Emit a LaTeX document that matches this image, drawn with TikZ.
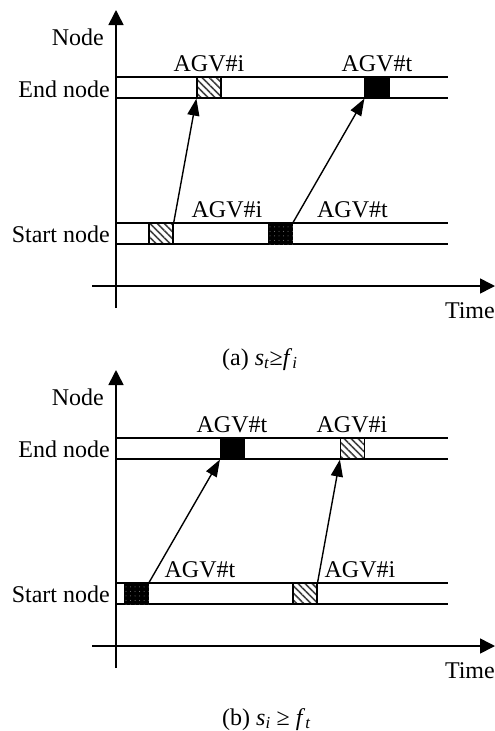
\documentclass[tikz,border=0pt]{standalone}
\usepackage{fontspec}
\setmainfont{Liberation Serif}
\usetikzlibrary{arrows.meta,patterns.meta}

\begin{document}
\begin{tikzpicture}[
  x=1pt, y=-1pt,
  font=\fontsize{24}{28}\selectfont,
  lbl/.style={
    inner sep=0pt,
    anchor=base
  },
  hatchbox/.style={
    draw,
    rectangle,
    line width=1.2pt,
    inner sep=0pt,
    minimum width=24pt,
    minimum height=21pt,
    pattern={Lines[angle=-45,distance=5pt,line width=1.6pt]},
    pattern color=black!75
  },
  dotbox/.style={
    draw,
    rectangle,
    fill=black,
    line width=1.2pt,
    inner sep=0pt,
    minimum width=24pt,
    minimum height=21pt,
    postaction={pattern={Dots[distance=4.5pt,radius=0.5pt]}, pattern color=gray}
  },
  solidbox/.style={
    draw,
    rectangle,
    fill=black,
    line width=1.2pt,
    inner sep=0pt,
    minimum width=24pt,
    minimum height=21pt
  },
  band/.style={line width=1.3pt},
  axis/.style={line width=1.6pt, -{Triangle[length=15pt,width=15pt]}},
  arrow/.style={line width=1.4pt, -{Triangle[length=17pt,width=12pt]}}
]
\useasboundingbox (0,0) rectangle (495,731);

% (a) axes and node bands.
\coordinate (a-ybot) at (116,308);
\coordinate (a-ytop) at (116,10);
\coordinate (a-xleft) at (92,286);
\coordinate (a-xright) at (495,286);
\coordinate (a-e1l) at (116,77);  \coordinate (a-e1r) at (448,77);
\coordinate (a-e2l) at (116,98);  \coordinate (a-e2r) at (448,98);
\coordinate (a-s1l) at (116,223); \coordinate (a-s1r) at (448,223);
\coordinate (a-s2l) at (116,244); \coordinate (a-s2r) at (448,244);

\draw[axis] (a-ybot) -- (a-ytop);
\draw[axis] (a-xleft) -- (a-xright);
\draw[band] (a-e1l) -- (a-e1r);
\draw[band] (a-e2l) -- (a-e2r);
\draw[band] (a-s1l) -- (a-s1r);
\draw[band] (a-s2l) -- (a-s2r);

\node[lbl, anchor=base east] (a-node) at (104,45) {Node};
\node[lbl, anchor=base east] (a-end) at (110,97) {End node};
\node[lbl, anchor=base east] (a-start) at (110,242) {Start node};
\node[lbl, anchor=base east] (a-time) at (495,318) {Time};

% (a) vehicle slots.
\node[hatchbox] (a-si) at (161,233.5) {};
\node[hatchbox] (a-ei) at (209,87.5) {};
\node[dotbox] (a-st) at (280.5,233.5) {};
\node[solidbox] (a-et) at (377,87.5) {};

\node[lbl] (a-si-lbl) at (227,217) {AGV\#i};
\node[lbl] (a-ei-lbl) at (209,71) {AGV\#i};
\node[lbl] (a-st-lbl) at (352.5,217) {AGV\#t};
\node[lbl] (a-et-lbl) at (377,71) {AGV\#t};

\draw[arrow] (a-si.north east) -- (a-ei.south west);
\draw[arrow] (a-st.north east) -- (a-et.south west);

\node[lbl, anchor=base west] (a-cap) at (222,365)
  {(a) \textit{s}\textsubscript{\textit{t}}≥\textit{f}\textsubscript{\textit{i}}};

% (b) axes and node bands.
\coordinate (b-ybot) at (116,668);
\coordinate (b-ytop) at (116,370);
\coordinate (b-xleft) at (92,646);
\coordinate (b-xright) at (495,646);
\coordinate (b-e1l) at (116,438); \coordinate (b-e1r) at (448,438);
\coordinate (b-e2l) at (116,459); \coordinate (b-e2r) at (448,459);
\coordinate (b-s1l) at (116,583); \coordinate (b-s1r) at (448,583);
\coordinate (b-s2l) at (116,604); \coordinate (b-s2r) at (448,604);

\draw[axis] (b-ybot) -- (b-ytop);
\draw[axis] (b-xleft) -- (b-xright);
\draw[band] (b-e1l) -- (b-e1r);
\draw[band] (b-e2l) -- (b-e2r);
\draw[band] (b-s1l) -- (b-s1r);
\draw[band] (b-s2l) -- (b-s2r);

\node[lbl, anchor=base east] (b-node) at (104,405) {Node};
\node[lbl, anchor=base east] (b-end) at (110,457) {End node};
\node[lbl, anchor=base east] (b-start) at (110,602) {Start node};
\node[lbl, anchor=base east] (b-time) at (495,678) {Time};

% (b) vehicle slots.
\node[dotbox] (b-st) at (136.5,593.5) {};
\node[solidbox] (b-et) at (232.5,448.5) {};
\node[hatchbox] (b-si) at (305,593.5) {};
\node[hatchbox] (b-ei) at (352.5,448.5) {};

\node[lbl] (b-st-lbl) at (200,577) {AGV\#t};
\node[lbl] (b-et-lbl) at (232,432) {AGV\#t};
\node[lbl] (b-si-lbl) at (360,577) {AGV\#i};
\node[lbl] (b-ei-lbl) at (352,432) {AGV\#i};

\draw[arrow] (b-st.north east) -- (b-et.south west);
\draw[arrow] (b-si.north east) -- (b-ei.south west);

\node[lbl, anchor=base west] (b-cap) at (222,725)
  {(b) \textit{s}\textsubscript{\textit{i}} ≥ \textit{f}\textsubscript{\textit{t}}};

\end{tikzpicture}
\end{document}
